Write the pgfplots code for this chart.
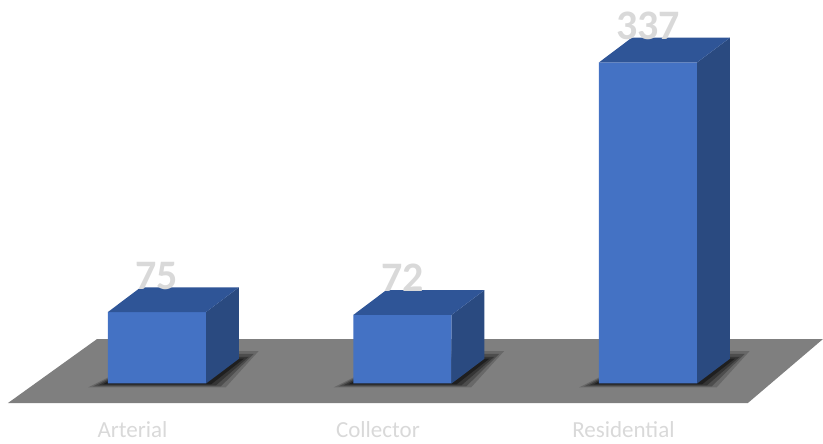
\documentclass[border=0pt]{standalone}
\usepackage{pgfplots}
\pgfplotsset{compat=1.18}
\usepackage{fontspec}
\setmainfont{Carlito}
\definecolor{front}{HTML}{4472C4}
\definecolor{topc}{HTML}{2F5597}
\definecolor{sidec}{HTML}{2A4A80}
\definecolor{floorc}{HTML}{7F7F7F}
\definecolor{lbl}{HTML}{D9D9D9}
\begin{document}
\begin{tikzpicture}
\begin{axis}[
  width=823pt, height=444pt, scale only axis,
  xmin=-0.6395, xmax=2.7128,
  ymin=-63.5, ymax=402.6,
  clip=false,
  axis line style={draw=none},
  tick style={draw=none},
  ytick=\empty,
  xtick={-0.1,0.9,1.9},
  xticklabels={Arterial,Collector,Residential},
  xticklabel style={anchor=base, yshift=6pt, text=lbl, font=\fontsize{23}{23}\selectfont},
  /pgf/number format/assume math mode=true,
  unbounded coords=jump,
]
% floor
\addplot[fill=floorc, draw=none] coordinates {(-0.607,-20.5) (2.407,-20.5) (2.713,46.7) (-0.244,46.7)};
% soft shadows
\addplot[fill=black, opacity=0.18, draw=none] coordinates {
  (-0.28,-4) (0.28,-4) (0.414,34) (0.014,34) (0.5,nan)
  (0.72,-4) (1.28,-4) (1.414,34) (1.014,34) (1.5,nan)
  (1.72,-4) (2.28,-4) (2.414,34) (2.014,34)};
\addplot[fill=black, opacity=0.25, draw=none] coordinates {
  (-0.26,-3) (0.26,-3) (0.394,31) (-0.006,31) (0.5,nan)
  (0.74,-3) (1.26,-3) (1.394,31) (0.994,31) (1.5,nan)
  (1.74,-3) (2.26,-3) (2.394,31) (1.994,31)};
\addplot[fill=black, opacity=0.3, draw=none] coordinates {
  (-0.24,-2) (0.24,-2) (0.374,28) (-0.026,28) (0.5,nan)
  (0.76,-2) (1.24,-2) (1.374,28) (0.974,28) (1.5,nan)
  (1.76,-2) (2.24,-2) (2.374,28) (1.974,28)};
\addplot[fill=black, opacity=0.4, draw=none] coordinates {
  (-0.22,-1) (0.22,-1) (0.354,26) (-0.046,26) (0.5,nan)
  (0.78,-1) (1.22,-1) (1.354,26) (0.954,26) (1.5,nan)
  (1.78,-1) (2.22,-1) (2.354,26) (1.954,26)};
% front faces with value labels
\addplot[ybar, bar width=0.4, fill=front, draw=none,
  nodes near coords,
  nodes near coords style={anchor=base, yshift=23pt, text=lbl,
    font=\bfseries\fontsize{42}{42}\selectfont}]
  coordinates {(0,75) (1,72) (2,337)};
% side faces
\addplot[fill=sidec, draw=none] coordinates {
  (0.2,0) (0.2,75) (0.334,101) (0.334,26) (0.5,nan)
  (1.2,0) (1.2,72) (1.334,98) (1.334,26) (1.5,nan)
  (2.2,0) (2.2,337) (2.334,363) (2.334,26)};
% top faces
\addplot[fill=topc, draw=none] coordinates {
  (-0.2,75) (-0.066,101) (0.334,101) (0.2,75) (0.5,nan)
  (0.8,72) (0.934,98) (1.334,98) (1.2,72) (1.5,nan)
  (1.8,337) (1.934,363) (2.334,363) (2.2,337)};
\end{axis}
\end{tikzpicture}
\end{document}
